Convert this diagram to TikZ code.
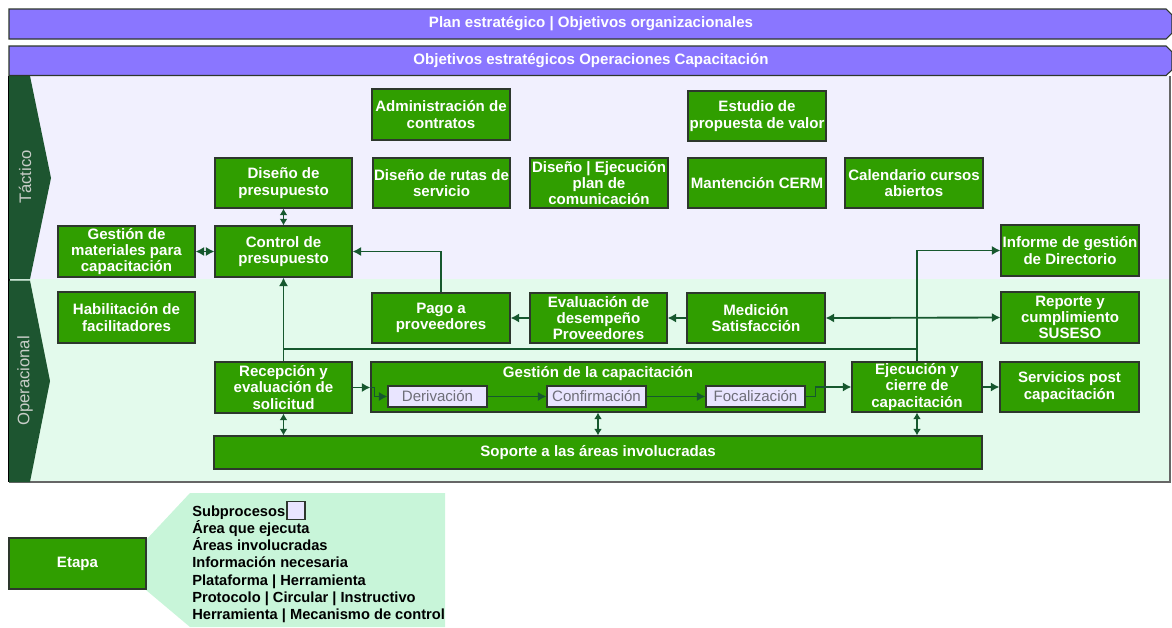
\documentclass[tikz,border=0pt]{standalone}
\usepackage{fontspec}
\setmainfont{Liberation Sans}
\usetikzlibrary{arrows.meta,calc}
\definecolor{boxgreen}{RGB}{48,158,0}
\definecolor{boxline}{RGB}{45,55,45}
\definecolor{tacbg}{RGB}{241,240,254}
\definecolor{opbg}{RGB}{227,250,236}
\definecolor{purp}{RGB}{138,118,255}
\definecolor{chev}{RGB}{29,85,48}
\definecolor{connc}{RGB}{22,88,46}
\definecolor{lav}{RGB}{233,229,255}
\definecolor{legbg}{RGB}{200,245,217}
\definecolor{subtext}{RGB}{110,110,120}
\definecolor{chevtxt}{RGB}{200,205,200}
\tikzset{
  box/.style={draw=boxline,fill=boxgreen,text=white,line width=0.8pt,inner sep=0pt,align=center,
    font=\bfseries\fontsize{11.3}{12.2}\selectfont},
  subbox/.style={draw=boxline,fill=lav,text=subtext,line width=0.8pt,inner sep=0pt,
    minimum width={99*0.75pt},minimum height={21*0.75pt},font=\fontsize{11.3}{12}\selectfont},
  banner/.style={draw=boxline,fill=purp,line width=0.8pt},
  bantext/.style={text=white,font=\bfseries\fontsize{11.3}{12}\selectfont,inner sep=0pt},
  chevtext/.style={text=chevtxt,font=\fontsize{12.5}{14}\selectfont,inner sep=0pt},
  conn/.style={draw=connc,line width=1.4pt},
  arr/.style={conn,-{Latex[length=6.5pt,width=7pt]}},
  darr/.style={conn,{Latex[length=5pt,width=6pt]}-{Latex[length=5pt,width=6pt]}},
  harr/.style={conn,{Latex[length=6.5pt,width=7pt]}-{Latex[length=6.5pt,width=7pt]}},
  legtext/.style={text=black,font=\bfseries\fontsize{11}{13}\selectfont,inner sep=0pt,anchor=base west}
}
\newcommand\bx[6]{\node[box,minimum width={(#4-#2)*0.75pt},minimum height={(#5-#3)*0.75pt}] (#1) at ({(#2+#4)/2},{(#3+#5)/2}) {#6};}
\begin{document}
\begin{tikzpicture}[x=0.75pt,y=-0.75pt]
\useasboundingbox (0,0) rectangle (1172,628);
% backgrounds
\fill[tacbg] (9,76) rectangle (1170,279);
\fill[opbg] (9,279) rectangle (1170,482);
\draw[gray!80!black,line width=0.8pt] (1170,76) -- (1170,482) -- (9,482);
\draw[black,line width=1pt] (9,76) -- (9,482);
% chevrons
\fill[chev] (9,76) -- (30,76) -- (51,178) -- (30,279) -- (9,279) -- cycle;
\fill[chev] (9,280.5) -- (30,280.5) -- (50,381) -- (30,482) -- (9,482) -- cycle;
\node[chevtext,rotate=90] (tac) at (25,177) {Táctico};
\node[chevtext,rotate=90] (ope) at (25,381) {Operacional};
% banners
\draw[banner] (9,9) -- (1166,9) -- (1172,15) -- (1172,33) -- (1166,39) -- (9,39) -- cycle;
\node[bantext] (b1) at (591,24) {Plan estratégico | Objetivos organizacionales};
\draw[banner] (9,46) -- (1166,46) -- (1172,52) -- (1172,70) -- (1166,75.5) -- (9,75.5) -- cycle;
\node[bantext] (b2) at (591,61) {Objetivos estratégicos Operaciones Capacitación};
% tactical boxes
\bx{adm}{372}{89}{510}{140}{Administración de\\contratos}
\bx{est}{688}{91}{826}{141}{Estudio de\\propuesta de valor}
\bx{dp}{215}{158}{352}{208}{Diseño de\\presupuesto}
\bx{dr}{373}{158}{510}{208}{Diseño de rutas de\\servicio}
\bx{dej}{530}{158}{668}{208}{Diseño | Ejecución\\plan de\\comunicación}
\bx{cerm}{688}{158}{826}{208}{Mantención CERM}
\bx{cal}{845}{158}{983}{208}{Calendario cursos\\abiertos}
\bx{gm}{58}{226}{195}{277}{Gestión de\\materiales para\\capacitación}
\bx{cp}{215}{226}{352}{277}{Control de\\presupuesto}
\bx{inf}{1001}{225}{1139}{276}{Informe de gestión\\de Directorio}
% operational boxes
\bx{hab}{58}{292}{195}{343}{Habilitación de\\facilitadores}
\bx{pago}{372}{293}{510}{343}{Pago a\\proveedores}
\bx{ev}{530}{293}{667}{343}{Evaluación de\\desempeño\\Proveedores}
\bx{med}{687}{293}{825}{343}{Medición\\Satisfacción}
\bx{rep}{1001}{292}{1139}{343}{Reporte y\\cumplimiento\\SUSESO}
\bx{rec}{215}{362}{352}{413}{Recepción y\\evaluación de\\solicitud}
\bx{ges}{371}{362}{825}{412}{}
\node[bantext] (gt) at (598,374) {Gestión de la capacitación};
\node[subbox] (der) at (437.5,396.5) {Derivación};
\node[subbox] (conf) at (596.5,396.5) {Confirmación};
\node[subbox] (foc) at (755.5,396.5) {Focalización};
\bx{ej}{852}{362}{982}{412}{Ejecución y\\cierre de\\capacitación}
\bx{serv}{1000}{362}{1139}{412}{Servicios post\\capacitación}
\bx{sop}{214}{436}{982}{469}{Soporte a las áreas involucradas}
% connectors
\coordinate (j1) at (283.5,349);
\draw[darr] (dp.south) -- (cp.north);
\draw[harr] (gm.east) -- (cp.west);
\draw[arr] (pago.north) |- (cp.east);
\draw[arr] (rec.north) -- (cp.south);
\draw[conn] (ej.north |- j1) -- (j1);
\draw[arr] (ej.north) |- (inf.west);
\draw[harr] (med.east) -- (rep.west);
\draw[arr] (med.west) -- (ev.east);
\draw[arr] (ev.west) -- (pago.east);
\draw[arr] (rec.east) -- (rec.east -| ges.west);
\draw[arr] (rec.east -| ges.west) -- ++(4,0) |- (der.west);
\draw[arr] (der.east) -- (conf.west);
\draw[arr] (conf.east) -- (foc.west);
\draw[conn] (foc.east) -- ++(10,0) |- (ges.east);
\draw[arr] (ges.east) -- (ej.west);
\draw[arr] (ej.east) -- (serv.west);
\draw[darr] (rec.south) -- (rec.south |- sop.north);
\draw[darr] (ges.south) -- (ges.south |- sop.north);
\draw[darr] (ej.south) -- (ej.south |- sop.north);
% legend
\fill[legbg] (146,540) -- (190,493) -- (445,493) -- (445,627) -- (190,627) -- (146,590) -- cycle;
\bx{etapa}{9}{538}{146}{589}{Etapa}
\node[legtext] (l1) at (192,516) {Subprocesos};
\node[draw=boxline,fill=lav,line width=0.8pt,minimum size={18*0.75pt},inner sep=0pt] (sq) at (296,510.5) {};
\node[legtext] (l2) at (192,533.3) {Área que ejecuta};
\node[legtext] (l3) at (192,550.6) {Áreas involucradas};
\node[legtext] (l4) at (192,567.9) {Información necesaria};
\node[legtext] (l5) at (192,585.2) {Plataforma | Herramienta};
\node[legtext] (l6) at (192,602.5) {Protocolo | Circular | Instructivo};
\node[legtext] (l7) at (192,619.8) {Herramienta | Mecanismo de control};
\end{tikzpicture}
\end{document}
